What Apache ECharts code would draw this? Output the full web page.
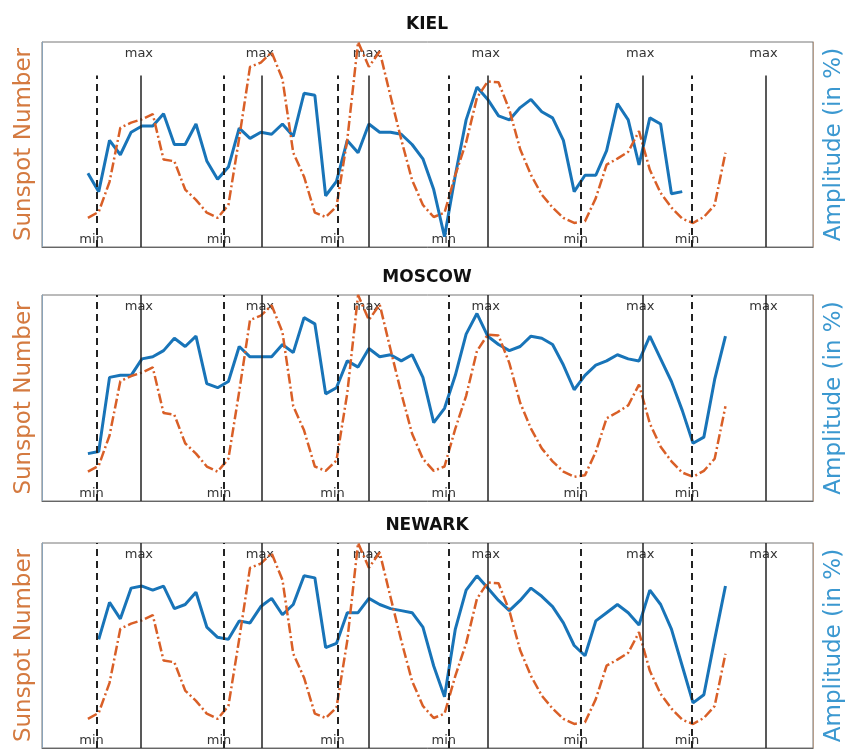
<!DOCTYPE html>
<html>
<head>
<meta charset="utf-8">
<script src="https://cdn.jsdelivr.net/npm/echarts@6/dist/echarts.min.js"></script>
<style>html,body{margin:0;padding:0;background:#fff}#c{width:854px;height:749px}</style>
</head>
<body>
<div id="c"></div>
<script>
// ---------------- data ----------------
const stations = ['KIEL', 'MOSCOW', 'NEWARK'];
const years = [1963,1964,1965,1966,1967,1968,1969,1970,1971,1972,
               1973,1974,1975,1976,1977,1978,1979,1980,1981,1982,
               1983,1984,1985,1986,1987,1988,1989,1990,1991,1992,
               1993,1994,1995,1996,1997,1998,1999,2000,2001,2002,
               2003,2004,2005,2006,2007,2008,2009,2010,2011,2012,
               2013,2014,2015,2016,2017,2018,2019,2020,2021,2022];
const sunspot = [9,16,51,114,120,124,130,77,75,42,
                 30,15,9,24,102,185,190,202,171,85,
                 57,15,10,22,100,214,185,203,151,100,
                 53,24,10,15,59,97,149,168,167,135,
                 89,59,36,21,9,3,5,32,71,78,
                 86,110,65,38,21,8,3,10,24,85];
const ampKiel = [36,27,52,45,56,59,59,65,50,50,
                 60,42,33,39,58,53,56,55,60,54,
                 75,74,25,32,52,46,60,56,56,55,
                 50,43,28,5,35,62,78,72,64,62,
                 68,72,66,63,52,27,35,35,47,70,
                 62,40,63,60,26,27,null,null,null,null];
const ampMoscow = [23,24,60,61,61,69,70,73,79,75,
                   80,57,55,58,75,70,70,70,76,72,
                   89,86,52,55,68,65,74,70,71,68,
                   71,60,38,45,61,81,91,80,76,73,
                   75,80,79,76,66,54,61,66,68,71,
                   69,68,80,69,58,44,28,31,59,80];
const ampNewark = [null,53,71,63,78,79,77,79,68,70,
                   76,59,54,53,62,61,69,73,65,70,
                   84,83,49,51,66,66,73,70,68,67,
                   66,59,40,25,58,77,84,78,72,67,
                   72,78,74,69,61,50,45,62,66,70,
                   66,60,77,70,58,40,22,26,53,79];
const minYears = [1963.8, 1975.6, 1986.1, 1996.4, 2008.6, 2018.9];
const maxYears = [1967.9, 1979.1, 1989.0, 2000.0, 2014.3, 2025.7];
const minLabel = 'min';
const maxLabel = 'max';
const leftName = 'Sunspot Number';
const rightName = 'Amplitude (in %)';

// ---------------- layout / style ----------------
const XMIN = 1958.75, XMAX = 2030.1;
const SUN_MIN = -25, SUN_MAX = 214;
const AMP_MIN = 0, AMP_MAX = 100;
const panels = [
  {top: 42, height: 205, amp: ampKiel, lineTop: 175},
  {top: 295, height: 206, amp: ampMoscow, lineTop: SUN_MAX},
  {top: 543, height: 205, amp: ampNewark, lineTop: SUN_MAX}
];
const ORANGE = '#d95f27', BLUE = '#1874b8';
const FONT = 'DejaVu Sans';

const grid = [], xAxis = [], yAxis = [], series = [], title = [];
panels.forEach((p, i) => {
  grid.push({left: 42, right: 36, top: p.top, height: p.height, show: true,
             borderColor: '#777', borderWidth: 1, containLabel: false});
  title.push({text: stations[i], left: 'center', top: p.top - 26, padding: 0,
              textStyle: {fontFamily: FONT, fontSize: 17, fontWeight: 'bold', color: '#111'}});
  xAxis.push({type: 'value', gridIndex: i, min: XMIN, max: XMAX,
              axisLine: {show: true, onZero: false, lineStyle: {color: '#666'}}, axisTick: {show: false},
              axisLabel: {show: false}, splitLine: {show: false}});
  yAxis.push({type: 'value', gridIndex: i, position: 'left', min: SUN_MIN, max: SUN_MAX,
              axisLine: {show: true, onZero: false, lineStyle: {color: '#8aa3b8'}}, axisTick: {show: false},
              axisLabel: {show: false}, splitLine: {show: false},
              name: leftName, nameLocation: 'middle', nameGap: 6,
              nameTextStyle: {color: '#d47a40', fontSize: 23, fontFamily: FONT}});
  yAxis.push({type: 'value', gridIndex: i, position: 'right', min: AMP_MIN, max: AMP_MAX,
              axisLine: {show: true, onZero: false, lineStyle: {color: '#b59d8a'}}, axisTick: {show: false},
              axisLabel: {show: false}, splitLine: {show: false},
              name: rightName, nameLocation: 'middle', nameGap: 10,
              nameTextStyle: {color: '#3b98d0', fontSize: 23, fontFamily: FONT}});

  const mlData = [];
  minYears.forEach(y => {
    const st = {type: [7, 5], width: 2, color: '#222'};
    mlData.push([{coord: [y, SUN_MIN], lineStyle: st}, {coord: [y, p.lineTop], lineStyle: st}]);
  });
  maxYears.forEach(y => {
    const st = {type: 'solid', width: 1.5, color: '#222'};
    mlData.push([{coord: [y, SUN_MIN], lineStyle: st}, {coord: [y, p.lineTop], lineStyle: st}]);
  });
  const pxPerUnit = p.height / (SUN_MAX - SUN_MIN);
  const maxLabY = SUN_MAX - 12 / pxPerUnit;
  const minLabY = SUN_MIN + 7 / pxPerUnit;
  const mpData = [];
  maxYears.forEach(y => mpData.push({coord: [y, maxLabY], name: maxLabel,
      label: {formatter: maxLabel, offset: [-2, 0]}}));
  minYears.forEach(y => mpData.push({coord: [y, minLabY], name: minLabel,
      label: {formatter: minLabel, offset: [-5, 0]}}));

  series.push({type: 'line', xAxisIndex: i, yAxisIndex: 2 * i + 1, z: 2,
               data: years.map((y, k) => [y, p.amp[k]]), showSymbol: false,
               connectNulls: false, lineStyle: {color: BLUE, width: 3}, animation: false});
  series.push({type: 'line', xAxisIndex: i, yAxisIndex: 2 * i, z: 3,
               data: years.map((y, k) => [y, sunspot[k]]), showSymbol: false,
               lineStyle: {color: ORANGE, width: 2.5, type: [10, 3, 2, 3]}, animation: false,
               markPoint: {symbol: 'rect', symbolSize: 0, silent: true, z: 1,
                           itemStyle: {color: 'rgba(0,0,0,0)'},
                           label: {show: true, position: 'inside', color: '#333', fontSize: 13, fontFamily: FONT},
                           data: mpData},
               markLine: {silent: true, symbol: ['none', 'none'], label: {show: false}, z: 4,
                          animation: false, data: mlData}});
});

const chart = echarts.init(document.getElementById('c'), null, {renderer: 'canvas'});
chart.setOption({animation: false, backgroundColor: '#fff', title, grid, xAxis, yAxis, series});
</script>
</body>
</html>
